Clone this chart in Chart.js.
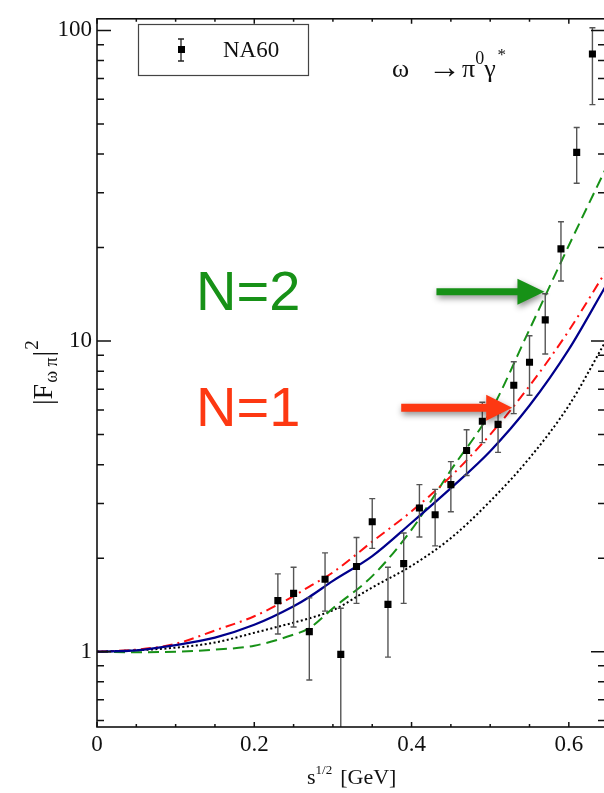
<!DOCTYPE html>
<html>
<head>
<meta charset="utf-8">
<script src="https://cdn.jsdelivr.net/npm/chart.js@4.4.1/dist/chart.umd.min.js"></script>
<style>
  html, body { margin: 0; padding: 0; background: #fff; overflow: hidden; }
  canvas { display: block; }
</style>
</head>
<body>
<canvas id="graficoFF" width="610" height="793"></canvas>
<script>
// NA60 omega -> pi0 mu mu form factor, sqrt(s) in GeV
const na60S    = [0.23, 0.25, 0.27, 0.29, 0.31, 0.33, 0.35, 0.37, 0.39, 0.41, 0.43, 0.45, 0.47, 0.49, 0.51, 0.53, 0.55, 0.57, 0.59, 0.61, 0.63];
const na60F2   = [1.46, 1.54, 1.16, 1.71, 0.98, 1.88, 2.62, 1.42, 1.92, 2.90, 2.76, 3.45, 4.44, 5.52, 5.39, 7.21, 8.54, 11.7, 19.8, 40.5, 84.0];
const na60Up   = [1.78, 1.87, 1.49, 2.08, 1.38, 2.33, 3.11, 1.87, 2.41, 3.45, 3.33, 4.09, 5.18, 6.35, 5.87, 8.58, 10.4, 14.2, 24.2, 48.7, 102];
const na60Down = [1.14, 1.20, 0.81, 1.35, 0.40, 1.43, 2.15, 0.96, 1.43, 2.34, 2.19, 2.82, 3.69, 4.71, 4.38, 5.84, 6.69, 9.08, 15.6, 32.2, 57.7];

// model curves, all on the same sqrt(s) grid
const curveS       = [0, 0.05, 0.1, 0.15, 0.2, 0.25, 0.27, 0.3, 0.35, 0.4, 0.45, 0.5, 0.55, 0.6, 0.646];
const curveSolid   = [1.00, 1.01, 1.05, 1.11, 1.22, 1.40, 1.50, 1.69, 2.03, 2.60, 3.36, 4.42, 6.2, 9.4, 14.9];
const curveDashDot = [1.00, 1.015, 1.06, 1.17, 1.30, 1.51, 1.62, 1.80, 2.26, 2.83, 3.67, 5.0, 7.17, 10.8, 16.6];
const curveDashed  = [1.00, 0.995, 1.00, 1.015, 1.045, 1.135, 1.19, 1.38, 1.75, 2.47, 3.84, 5.9, 10.9, 20.3, 35.5];
const curveDotted  = [1.00, 1.01, 1.03, 1.07, 1.15, 1.24, 1.28, 1.36, 1.61, 1.89, 2.32, 3.05, 4.2, 6.2, 9.9];

const xTicks = [0, 0.2, 0.4, 0.6];
const yTicks = [1, 10, 100];

const SERIF = 'Liberation Serif';
const VERDE = '#179117';
const LARANJA = '#fd3812';

const pts = (xs, ys) => xs.map((x, i) => ({ x: x, y: ys[i] }));

function seta(ctx, tipX, tipY, len, cor, shaftW, headW, headL) {
  ctx.save();
  ctx.shadowColor = 'rgba(0,0,0,0.45)';
  ctx.shadowBlur = 6;
  ctx.shadowOffsetX = 1;
  ctx.shadowOffsetY = 3;
  ctx.fillStyle = cor;
  ctx.beginPath();
  ctx.moveTo(tipX - len, tipY - shaftW / 2);
  ctx.lineTo(tipX - headL, tipY - shaftW / 2);
  ctx.lineTo(tipX - headL, tipY - headW / 2);
  ctx.lineTo(tipX, tipY);
  ctx.lineTo(tipX - headL, tipY + headW / 2);
  ctx.lineTo(tipX - headL, tipY + shaftW / 2);
  ctx.lineTo(tipX - len, tipY + shaftW / 2);
  ctx.closePath();
  ctx.fill();
  ctx.restore();
}

// draws a run of [text, size, baseline shift, gap after] pieces starting at (x, y)
function textoComposto(ctx, partes, x, y) {
  let cx = x;
  partes.forEach(([t, size, dy, gap]) => {
    ctx.font = size + 'px "' + SERIF + '"';
    ctx.fillText(t, cx, y + dy);
    cx += ctx.measureText(t).width + (gap || 0);
  });
}

function barraErro(ctx, x, yTop, yBot, cap) {
  ctx.beginPath();
  ctx.moveTo(x, yTop); ctx.lineTo(x, yBot);
  ctx.moveTo(x - cap, yTop); ctx.lineTo(x + cap, yTop);
  ctx.moveTo(x - cap, yBot); ctx.lineTo(x + cap, yBot);
  ctx.stroke();
}

const moldura = {
  id: 'moldura',
  beforeDatasetDraw(chart, args) {
    if (args.index !== 0) return;
    const { ctx, chartArea: a, scales: { x, y } } = chart;
    ctx.save();
    ctx.beginPath();
    ctx.rect(a.left, a.top, a.right - a.left, a.bottom - a.top);
    ctx.clip();
    ctx.strokeStyle = '#555';
    ctx.lineWidth = 1.4;
    na60S.forEach((s, i) => {
      barraErro(ctx, x.getPixelForValue(s), y.getPixelForValue(na60Up[i]), y.getPixelForValue(na60Down[i]), 3);
    });
    ctx.restore();
  },
  afterDraw(chart) {
    const { ctx, chartArea: a, scales: { x, y } } = chart;
    ctx.save();

    // frame
    ctx.strokeStyle = '#111';
    ctx.lineWidth = 1.6;
    ctx.strokeRect(a.left, a.top, a.right - a.left, a.bottom - a.top);

    // x ticks every 0.05, pointing inward
    ctx.lineWidth = 1.5;
    ctx.beginPath();
    for (let i = 0; i * 0.05 <= x.max; i++) {
      const px = x.getPixelForValue(i * 0.05);
      const len = i % 4 === 0 ? 5 : 3;
      ctx.moveTo(px, a.bottom); ctx.lineTo(px, a.bottom - len);
      ctx.moveTo(px, a.top); ctx.lineTo(px, a.top + len);
    }
    // log y ticks
    for (let d = -1; d <= 2; d++) {
      for (let m = 1; m <= 9; m++) {
        const v = m * Math.pow(10, d);
        if (v < y.min || v > y.max) continue;
        const py = y.getPixelForValue(v);
        const len = m === 1 ? 14 : 7;
        ctx.moveTo(a.left, py); ctx.lineTo(a.left + len, py);
        ctx.moveTo(a.right, py); ctx.lineTo(a.right - len, py);
      }
    }
    ctx.stroke();

    // axis titles
    ctx.fillStyle = '#111';
    ctx.textBaseline = 'alphabetic';
    ctx.textAlign = 'left';
    textoComposto(ctx, [['s', 22, 0], ['1/2', 13, -10, 8], ['[GeV]', 22, 0]], 307, 784);

    ctx.save();
    ctx.translate(52, 405);
    ctx.rotate(-Math.PI / 2);
    textoComposto(ctx, [['|F', 28, 0, 1], ['\u03C9 \u03C0', 18, 5, 1], ['|', 28, 0, 1], ['2', 19, -14]], 0, 0);
    ctx.restore();

    // reaction label
    textoComposto(ctx, [['\u03C9', 26, 0]], 392, 77);
    ctx.save();
    ctx.font = '26px "' + SERIF + '"';
    const wArr = ctx.measureText('\u2192').width;
    ctx.translate(428, 78);
    ctx.scale(33 / wArr, 1.3);
    ctx.fillText('\u2192', 0, 0);
    ctx.restore();
    textoComposto(ctx, [['\u03C0', 26, 0], ['0', 18, -13], ['\u03B3', 26, 0, 2], ['*', 17, -17]], 462, 77);

    // legend box
    ctx.strokeStyle = '#444';
    ctx.lineWidth = 1.2;
    ctx.strokeRect(138.5, 24.5, 170, 51);
    ctx.strokeStyle = '#222';
    ctx.lineWidth = 1.3;
    barraErro(ctx, 181, 39, 61, 3);
    ctx.fillStyle = '#000';
    ctx.fillRect(178, 46, 7, 7);
    ctx.fillStyle = '#111';
    ctx.font = '23px "' + SERIF + '"';
    ctx.textBaseline = 'middle';
    ctx.fillText(chart.data.datasets[0].label, 223, 51);

    // N labels and arrows
    ctx.textBaseline = 'alphabetic';
    ctx.font = '56px "Liberation Sans"';
    ctx.fillStyle = VERDE;
    ctx.fillText('N=2', 196, 310);
    ctx.fillStyle = LARANJA;
    ctx.fillText('N=1', 196, 426);

    seta(ctx, x.getPixelForValue(0.569), y.getPixelForValue(14.4), 108, VERDE, 7, 26, 27);
    seta(ctx, x.getPixelForValue(0.528), y.getPixelForValue(6.1), 111, LARANJA, 8, 26, 26);

    ctx.restore();
  }
};

const linha = (label, dados, cor, dash, largura, ordem) => ({
  label: label,
  data: pts(curveS, dados),
  borderColor: cor,
  borderWidth: largura,
  borderDash: dash,
  borderCapStyle: 'butt',
  pointRadius: 0,
  fill: false,
  cubicInterpolationMode: 'monotone',
  order: ordem
});

const tickFont = { family: SERIF, size: 23 };

new Chart(document.getElementById('graficoFF').getContext('2d'), {
  type: 'line',
  data: {
    datasets: [
      {
        label: 'NA60',
        type: 'scatter',
        data: pts(na60S, na60F2),
        pointStyle: 'rect',
        pointRadius: 5,
        backgroundColor: '#000',
        borderWidth: 0,
        order: 0
      },
      linha('dotted', curveDotted, '#000', [2, 2.5], 2, 4),
      linha('dashed', curveDashed, VERDE, [11, 6], 2, 3),
      linha('dashdot', curveDashDot, '#ff1010', [10, 5, 2, 5], 2, 2),
      linha('solid', curveSolid, '#00008c', [], 2.2, 1)
    ]
  },
  options: {
    responsive: false,
    animation: false,
    layout: { padding: { top: 12, right: 4, left: 0, bottom: 0 } },
    plugins: { legend: { display: false }, tooltip: { enabled: false } },
    scales: {
      x: {
        type: 'linear',
        min: 0,
        max: 0.646,
        afterBuildTicks: s => { s.ticks = xTicks.map(v => ({ value: v })); },
        afterFit: s => { s.height = 66; },
        grid: { display: false, drawTicks: false },
        border: { display: false },
        ticks: { padding: 4, color: '#111', font: tickFont, maxRotation: 0, autoSkip: false, callback: v => String(v) }
      },
      y: {
        type: 'logarithmic',
        min: 0.572,
        max: 109,
        afterBuildTicks: s => { s.ticks = yTicks.map(v => ({ value: v })); },
        afterFit: s => { s.width = 97; },
        grid: { display: false, drawTicks: false },
        border: { display: false },
        ticks: { padding: 5, color: '#111', font: tickFont, autoSkip: false, callback: v => String(v) }
      }
    }
  },
  plugins: [moldura]
});
</script>
</body>
</html>
